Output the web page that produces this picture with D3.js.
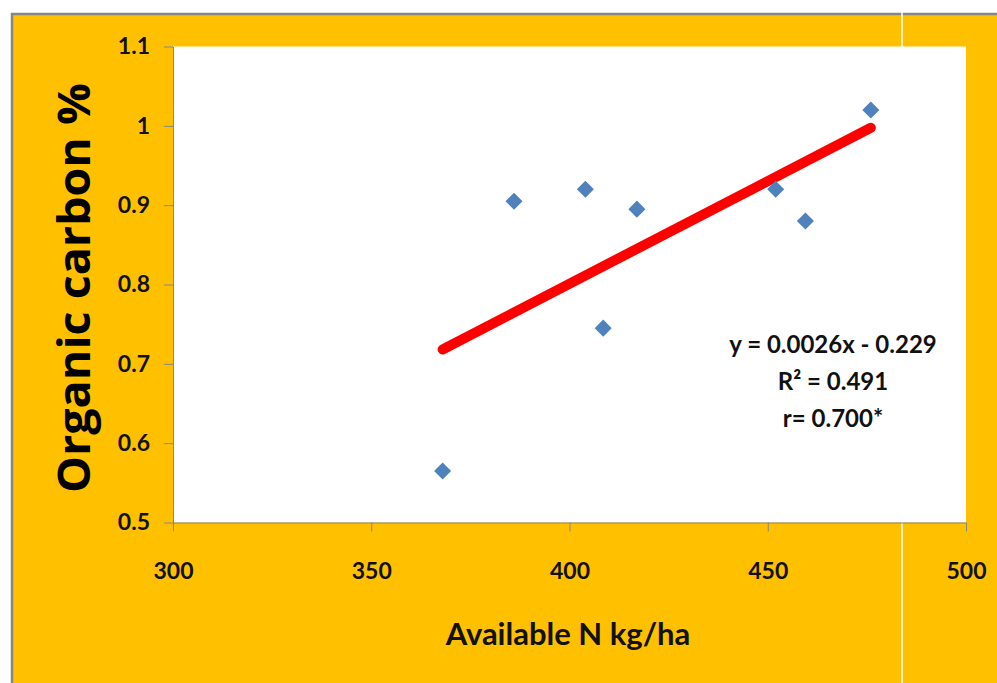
<!DOCTYPE html>
<html>
<head>
<meta charset="utf-8">
<script src="https://cdn.jsdelivr.net/npm/d3@7"></script>
<style>
  body { margin: 0; background: #fff; }
  svg { display: block; }
</style>
</head>
<body>
<script>
// values
const nitrogen = [368, 386, 404, 408.5, 417, 452, 459.5, 476];
const carbon = [0.565, 0.905, 0.92, 0.745, 0.895, 0.92, 0.88, 1.02];
const xTicks = [300, 350, 400, 450, 500];
const yTicks = [0.5, 0.6, 0.7, 0.8, 0.9, 1, 1.1];
const yTickLabels = ["0.5", "0.6", "0.7", "0.8", "0.9", "1", "1.1"];
const equationLines = ["y = 0.0026x - 0.229", "R² = 0.491", "r= 0.700*"];

const width = 997;
const height = 683;
const plot = { left: 173, right: 966, top: 46.5, bottom: 522.5 };

const svg = d3.select("body").append("svg")
  .attr("width", width)
  .attr("height", height);

// frame
svg.append("rect").attr("x", 12).attr("y", 14).attr("width", width).attr("height", height).attr("fill", "#FFC000");
svg.append("line").attr("x1", 11).attr("x2", width).attr("y1", 14).attr("y2", 14)
  .attr("stroke", "#868686").attr("stroke-width", 2.5);
svg.append("line").attr("x1", 12).attr("x2", 12).attr("y1", 13).attr("y2", height)
  .attr("stroke", "#868686").attr("stroke-width", 2.5);
svg.append("line").attr("x1", 902).attr("x2", 902).attr("y1", 12).attr("y2", height)
  .attr("stroke", "#fff").attr("stroke-width", 1.5);

svg.append("rect")
  .attr("x", plot.left).attr("y", plot.top)
  .attr("width", plot.right - plot.left).attr("height", plot.bottom - plot.top)
  .attr("fill", "#fff");

const x = d3.scaleLinear().domain([300, 500]).range([plot.left, plot.right]);
const y = d3.scaleLinear().domain([0.5, 1.1]).range([plot.bottom, plot.top]);

const xAxis = d3.axisBottom(x).tickValues(xTicks).tickFormat(d3.format("d"))
  .tickSizeInner(9).tickSizeOuter(0).tickPadding(31);
const yAxis = d3.axisLeft(y).tickValues(yTicks).tickFormat((d, i) => yTickLabels[i])
  .tickSizeInner(9).tickSizeOuter(0).tickPadding(14);

const styleAxis = g => {
  g.select(".domain").attr("stroke", "#868686");
  g.selectAll(".tick line").attr("stroke", "#868686");
  g.selectAll(".tick text")
    .attr("fill", "#111")
    .style("font-family", "Lato, 'Open Sans', sans-serif")
    .style("font-weight", "bold")
    .style("font-size", "23px");
};

svg.append("g").attr("id", "x-axis")
  .attr("transform", `translate(0,${plot.bottom})`)
  .call(xAxis).call(styleAxis);
svg.append("g").attr("id", "y-axis")
  .attr("transform", `translate(${plot.left},0)`)
  .call(yAxis).call(styleAxis);

// least squares trend line
const mx = d3.mean(nitrogen);
const my = d3.mean(carbon);
const sxy = d3.sum(nitrogen, (d, i) => (d - mx) * (carbon[i] - my));
const sxx = d3.sum(nitrogen, d => (d - mx) * (d - mx));
const slope = sxy / sxx;
const intercept = my - slope * mx;
const xr = d3.extent(nitrogen);

svg.append("line")
  .attr("x1", x(xr[0])).attr("y1", y(slope * xr[0] + intercept))
  .attr("x2", x(xr[1])).attr("y2", y(slope * xr[1] + intercept))
  .attr("stroke", "#FF0000").attr("stroke-width", 10).attr("stroke-linecap", "round");

// diamond markers
const diamond = d3.symbol().type(d3.symbolSquare).size(145);
svg.selectAll("path.dot")
  .data(nitrogen)
  .enter()
  .append("path")
  .attr("class", "dot")
  .attr("d", diamond)
  .attr("transform", (d, i) => `translate(${x(d)},${y(carbon[i])}) rotate(45)`)
  .attr("fill", "#4F81BD");

// equation
svg.append("g").selectAll("text")
  .data(equationLines)
  .enter()
  .append("text")
  .attr("x", 833)
  .attr("y", (d, i) => 353 + i * 37)
  .attr("text-anchor", "middle")
  .attr("fill", "#111")
  .style("font-family", "Lato, 'Open Sans', sans-serif")
  .style("font-weight", "bold")
  .style("font-size", "24px")
  .text(d => d);

// axis titles
svg.append("text")
  .attr("x", 568).attr("y", 645)
  .attr("text-anchor", "middle")
  .attr("fill", "#111")
  .style("font-family", "Lato, 'Open Sans', sans-serif")
  .style("font-weight", "bold")
  .style("font-size", "31px")
  .text("Available N kg/ha");

svg.append("text")
  .attr("transform", "translate(90,288) rotate(-90)")
  .attr("text-anchor", "middle")
  .attr("fill", "#000")
  .attr("textLength", 410)
  .attr("lengthAdjust", "spacingAndGlyphs")
  .style("font-family", "'Open Sans', sans-serif")
  .style("font-weight", "bold")
  .style("font-size", "45px")
  .text("Organic carbon %");
</script>
</body>
</html>
